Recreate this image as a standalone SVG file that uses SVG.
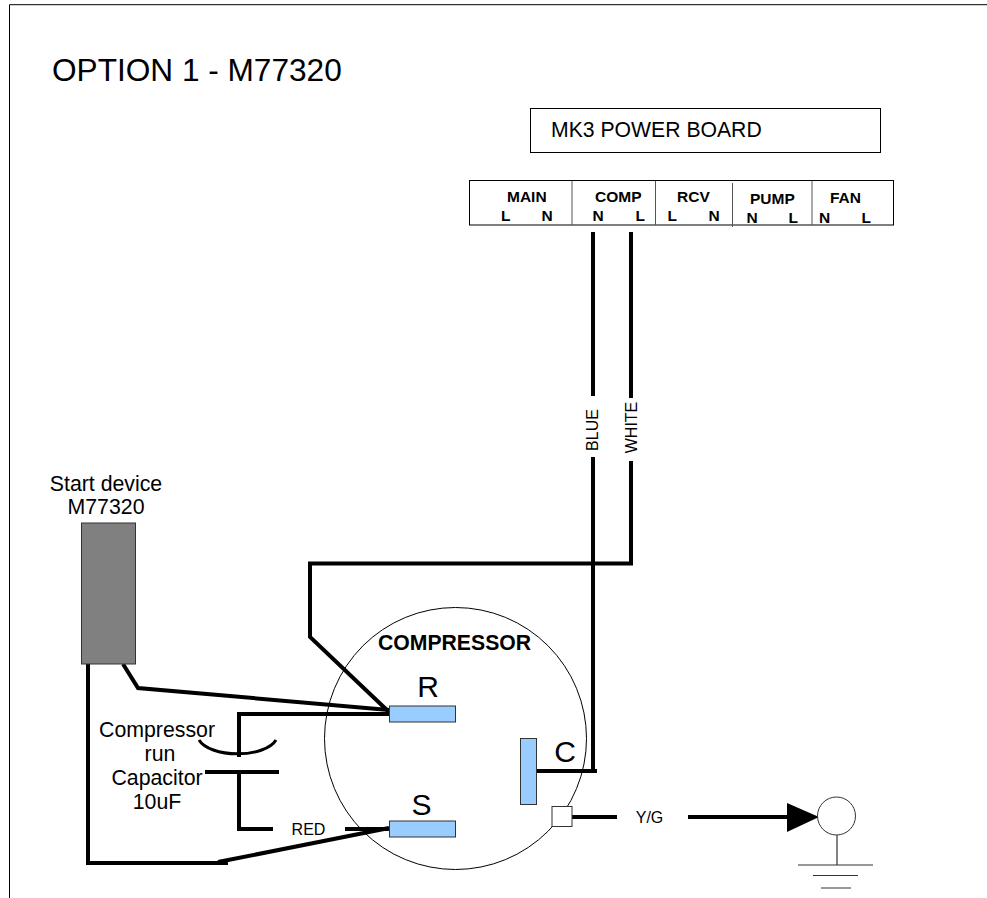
<svg xmlns="http://www.w3.org/2000/svg" width="987" height="898" viewBox="0 0 987 898">
<style>
text{font-family:"Liberation Sans",Arial,sans-serif;fill:#000}
.b{font-weight:bold;font-size:15.500px}
.m{text-anchor:middle;font-size:21.300px}
.l{text-anchor:middle;font-size:30px}
.s{font-size:16px;text-anchor:middle}
.w{fill:none;stroke:#000;stroke-width:4;stroke-linejoin:miter}
.t{fill:none;stroke:#000;stroke-width:1}
.term{fill:#99ccff;stroke:#333;stroke-width:1}
.g{fill:none;stroke:#333;stroke-width:1.200}
</style>
<rect width="987" height="898" fill="#fff"/>
<path class="t" d="M9.500 898V4.700H987" stroke="#333"/>
<text x="52" y="81" font-size="31.600">OPTION 1 - M77320</text>
<g id="compressor"><circle class="t" cx="455.500" cy="738.500" r="131" fill="none"/><text x="378" y="650" font-size="21.200" font-weight="bold">COMPRESSOR</text></g>
<g id="power-board"><rect x="530.500" y="108.500" width="350" height="44" fill="#fff" stroke="#000" stroke-width="1"/><text x="551" y="136.500" font-size="21.200">MK3 POWER BOARD</text></g>
<g id="terminal-strip"><rect x="469.500" y="180.500" width="424" height="44.500" fill="#fff" stroke="#000"/>
<path d="M572 181V225M655.500 181V225M732.500 183V227M812 181V225" stroke="#555" stroke-width="1"/>
<text class="b" x="507" y="202">MAIN</text><text class="b" x="501" y="221">L</text><text class="b" x="541.500" y="221">N</text>
<text class="b" x="595" y="202">COMP</text><text class="b" x="592.500" y="221">N</text><text class="b" x="635.500" y="221">L</text>
<text class="b" x="677" y="202">RCV</text><text class="b" x="667.500" y="221">L</text><text class="b" x="708.500" y="221">N</text>
<text class="b" x="750" y="204">PUMP</text><text class="b" x="746.500" y="222.500">N</text><text class="b" x="788.500" y="222.500">L</text>
<text class="b" x="830" y="203">FAN</text><text class="b" x="819" y="222.500">N</text><text class="b" x="861.500" y="222.500">L</text></g>
<g id="connectors">
<path class="w" d="M593 232V396M593 457V771M631 232V398M631 461V563.500H310V637L389 712"/>
<path class="w" d="M123 664L138 688L389 710M389 714H239V757M239 770V829H273M345 829H389M88 664V863H228M218 862L389 828M537 771H597M572 817H617M688 817H790"/>
<path class="w" style="stroke-width:3" d="M199 740A40 19 0 0 0 276 740"/>
<path class="w" d="M205 772H279"/>
<polygon points="787,803 819,817 787,832" fill="#000"/>
</g>
<g id="start-device"><rect x="81.500" y="523" width="54" height="141" fill="#808080" stroke="#333"/><text class="m" x="106" y="491">Start device</text><text class="m" x="106" y="514">M77320</text></g>
<g id="cap-label"><text class="m" x="157" y="737">Compressor</text><text class="m" x="160" y="761">run</text><text class="m" x="157" y="785">Capacitor</text><text class="m" x="157" y="809">10uF</text></g>
<g id="term-r"><rect class="term" x="389.500" y="706" width="66" height="16"/><text class="l" x="428" y="697">R</text></g>
<g id="term-s"><rect class="term" x="389.500" y="821" width="66" height="16"/><text class="l" x="421.500" y="815">S</text></g>
<g id="term-c"><rect class="term" x="520.500" y="738.500" width="16" height="66"/><text class="l" x="565" y="762">C</text></g>
<g id="ground-lug"><rect x="552" y="806.500" width="20" height="20" fill="#fff" stroke="#333"/></g>
<text class="s" x="308.500" y="835">RED</text><text class="s" x="649.500" y="823">Y/G</text>
<text class="s" transform="translate(598,430) rotate(-90)">BLUE</text><text class="s" transform="translate(637,427.500) rotate(-90)">WHITE</text>
<g id="ground"><circle cx="836.500" cy="816" r="19" fill="#fff" stroke="#333" stroke-width="1"/><path class="g" d="M837 835V865M798 865H873M813 875.500H858"/><path d="M821 888H851" stroke="#777" stroke-width="1.500"/></g>
</svg>
